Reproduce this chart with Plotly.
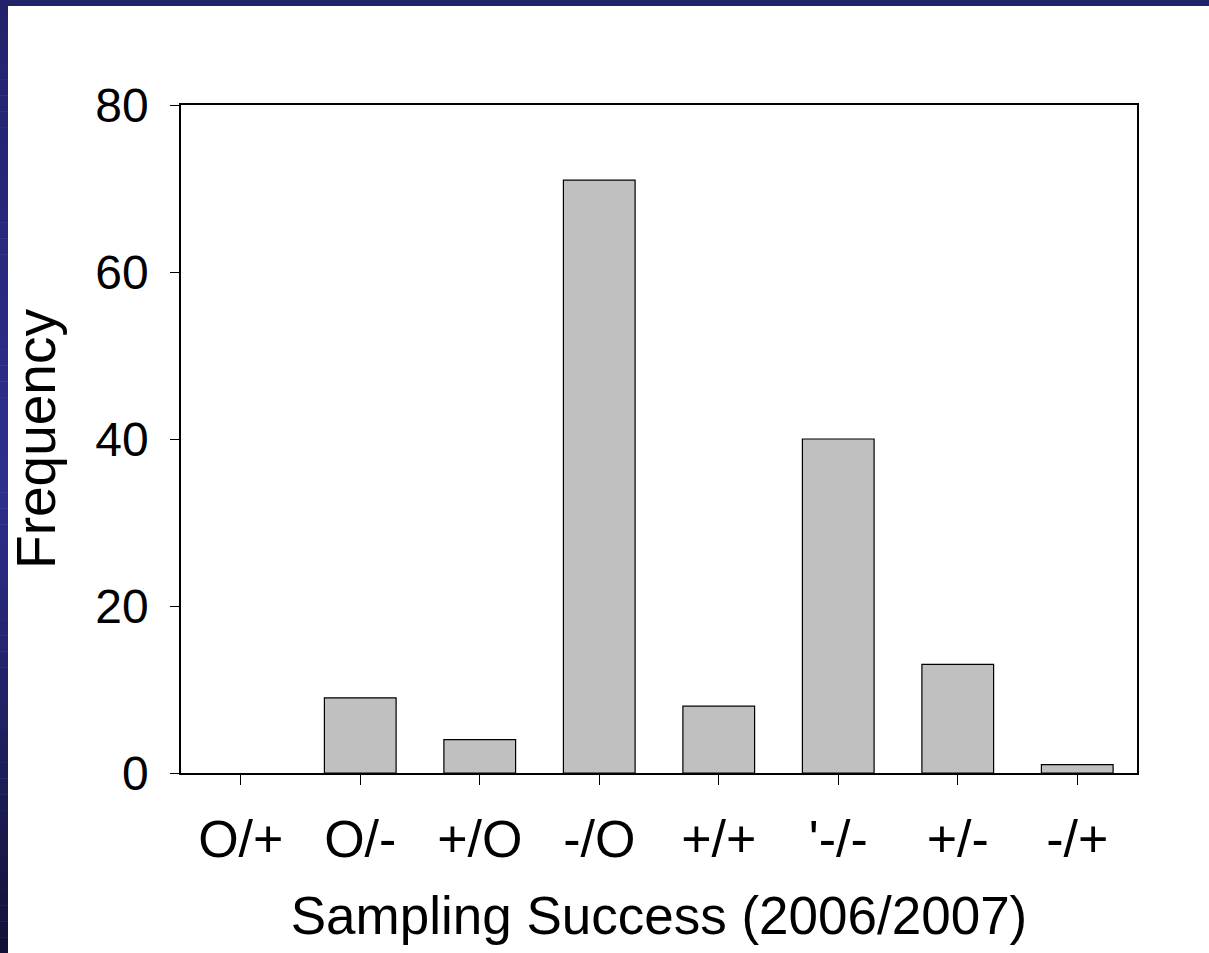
import plotly.graph_objects as go

# Sampling success categories (2006 result / 2007 result) and their counts
categories = ["O/+", "O/-", "+/O", "-/O", "+/+", "'-/-", "+/-", "-/+"]
frequency = [0, 9, 4, 71, 8, 40, 13, 1]
y_ticks = [0, 20, 40, 60, 80]

W, H = 1209, 953
L, R, T, B = 181, 72, 105, 180
plot_w, plot_h = W - L - R, H - T - B

FONT = "Liberation Sans, Arial, sans-serif"

fig = go.Figure(
    go.Bar(
        x=categories,
        y=frequency,
        width=0.6,
        marker=dict(
            color="#c0c0c0",
            line=dict(color="#000000",
                      width=[0 if v == 0 else 1.2 for v in frequency]),
        ),
        showlegend=False,
    )
)


def px_x(p):
    return (p - L) / plot_w


def px_y(p):
    return (H - B - p) / plot_h


def mix(c1, c2, t):
    return "rgb(%d,%d,%d)" % tuple(round(a + (b - a) * t) for a, b in zip(c1, c2))


shapes = []
# slide frame: dark navy band along the top
shapes.append(dict(type="rect", xref="paper", yref="paper",
                   x0=px_x(0), x1=px_x(W), y0=px_y(6), y1=px_y(0),
                   fillcolor="#22226b", line=dict(width=0), layer="above"))
# left band with a vertical navy gradient
stops = [(0, (34, 34, 107)), (480, (46, 46, 142)), (953, (18, 18, 56))]
n = 60
for i in range(n):
    y0 = i * H / n
    y1 = (i + 1) * H / n
    ym = (y0 + y1) / 2
    for (a, ca), (b, cb) in zip(stops[:-1], stops[1:]):
        if a <= ym <= b:
            col = mix(ca, cb, (ym - a) / (b - a))
            break
    shapes.append(dict(type="rect", xref="paper", yref="paper",
                       x0=px_x(0), x1=px_x(8), y0=px_y(y1 + 0.5), y1=px_y(y0),
                       fillcolor=col, line=dict(width=0), layer="above"))

fig.update_layout(
    width=W,
    height=H,
    margin=dict(l=L, r=R, t=T, b=B),
    paper_bgcolor="#ffffff",
    plot_bgcolor="#ffffff",
    font=dict(family=FONT, color="#000000"),
    bargap=0.4,
    shapes=shapes,
)

fig.update_xaxes(
    range=[-0.5, 7.5],
    showline=True, linecolor="#000000", linewidth=1.5, mirror=True,
    ticks="outside", ticklen=10, tickwidth=1.2, tickcolor="#000000",
    tickfont=dict(size=52, family=FONT),
    ticklabelstandoff=10,
    showgrid=False, zeroline=False,
    title=dict(text="Sampling Success (2006/2007)",
               font=dict(size=53, family=FONT), standoff=30),
)

fig.update_yaxes(
    range=[0, 80],
    tickvals=y_ticks,
    showline=True, linecolor="#000000", linewidth=1.5, mirror=True,
    ticks="outside", ticklen=9, tickwidth=1.2, tickcolor="#000000",
    tickfont=dict(size=48, family=FONT),
    ticklabelstandoff=12,
    showgrid=False, zeroline=False,
    title=dict(text="Frequency", font=dict(size=55, family=FONT), standoff=22),
)

fig.write_html("out.html")
